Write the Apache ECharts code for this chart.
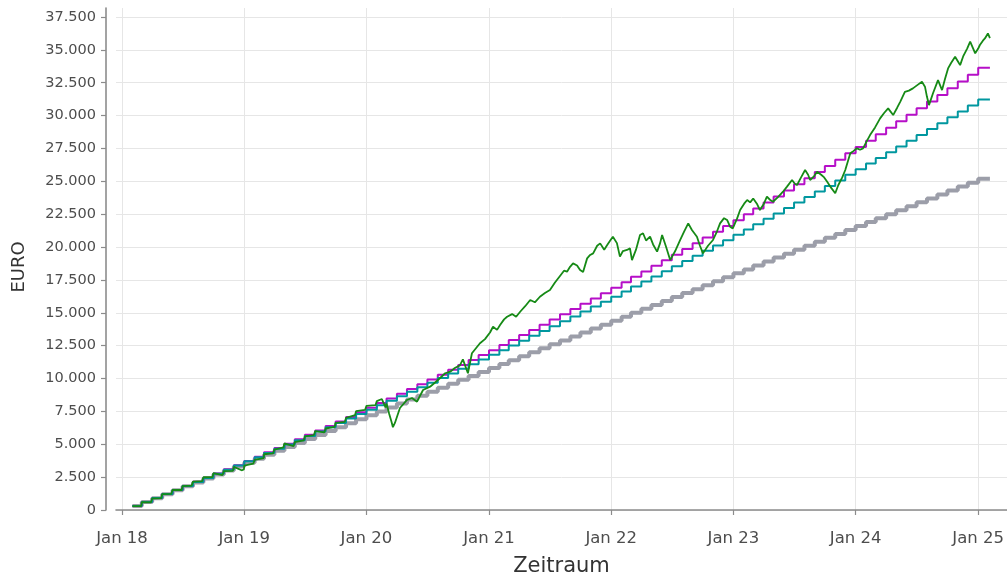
<!DOCTYPE html>
<html><head><meta charset="utf-8">
<script src="https://cdn.jsdelivr.net/npm/echarts@6/dist/echarts.min.js"></script>
<style>html,body{margin:0;padding:0;background:#fff}#c{width:1007px;height:577px}</style>
</head><body><div id="c"></div>
<script>
// ---------- DATA ----------
const monthDates = [
'2018-02-01','2018-03-01','2018-04-01','2018-05-01','2018-06-01','2018-07-01','2018-08-01','2018-09-01','2018-10-01','2018-11-01','2018-12-01',
'2019-01-01','2019-02-01','2019-03-01','2019-04-01','2019-05-01','2019-06-01','2019-07-01','2019-08-01','2019-09-01','2019-10-01','2019-11-01','2019-12-01',
'2020-01-01','2020-02-01','2020-03-01','2020-04-01','2020-05-01','2020-06-01','2020-07-01','2020-08-01','2020-09-01','2020-10-01','2020-11-01','2020-12-01',
'2021-01-01','2021-02-01','2021-03-01','2021-04-01','2021-05-01','2021-06-01','2021-07-01','2021-08-01','2021-09-01','2021-10-01','2021-11-01','2021-12-01',
'2022-01-01','2022-02-01','2022-03-01','2022-04-01','2022-05-01','2022-06-01','2022-07-01','2022-08-01','2022-09-01','2022-10-01','2022-11-01','2022-12-01',
'2023-01-01','2023-02-01','2023-03-01','2023-04-01','2023-05-01','2023-06-01','2023-07-01','2023-08-01','2023-09-01','2023-10-01','2023-11-01','2023-12-01',
'2024-01-01','2024-02-01','2024-03-01','2024-04-01','2024-05-01','2024-06-01','2024-07-01','2024-08-01','2024-09-01','2024-10-01','2024-11-01','2024-12-01',
'2025-01-01'];
const endDate = '2025-02-05';

const invested = [
300,600,900,1200,1500,1800,2100,2400,2700,3000,3300,3600,
3900,4200,4500,4800,5100,5400,5700,6000,6300,6600,6900,7200,
7500,7800,8100,8400,8700,9000,9300,9600,9900,10200,10500,10800,
11100,11400,11700,12000,12300,12600,12900,13200,13500,13800,14100,14400,
14700,15000,15300,15600,15900,16200,16500,16800,17100,17400,17700,18000,
18300,18600,18900,19200,19500,19800,20100,20400,20700,21000,21300,21600,
21900,22200,22500,22800,23100,23400,23700,24000,24300,24600,24900,25200];

const sparplan6 = [
300,602,905,1209,1515,1823,2132,2442,2755,3068,3384,3701,
4019,4339,4661,4984,5309,5636,5964,6294,6625,6958,7293,7630,
7968,8308,8649,8992,9337,9684,10032,10383,10735,11088,11444,11801,
12160,12521,12883,13248,13614,13982,14352,14724,15097,15473,15850,16229,
16611,16994,17379,17765,18154,18545,18938,19332,19729,20128,20528,20931,
21336,21742,22151,22562,22975,23390,23807,24226,24647,25070,25495,25923,
26352,26784,27218,27654,28092,28533,28976,29420,29867,30317,30768,31222];

const sparplan8 = [
300,602,906,1212,1520,1830,2142,2457,2773,3092,3412,3735,
4060,4387,4716,5048,5381,5717,6055,6396,6738,7083,7430,7780,
8132,8486,8843,9202,9563,9927,10293,10662,11033,11406,11782,12161,
12542,12925,13312,13700,14092,14486,14882,15281,15683,16088,16495,16905,
17318,17733,18151,18572,18996,19423,19852,20285,20720,21158,21599,22043,
22490,22940,23393,23849,24308,24770,25235,25703,26175,26649,27127,27608,
28092,28579,29070,29563,30061,30561,31065,31572,32082,32596,33113,33634];

const etfDates = [
'2018-02-01','2018-02-27','2018-03-01','2018-03-28','2018-04-01','2018-04-28','2018-05-01','2018-05-28',
'2018-06-01','2018-06-28','2018-07-01','2018-07-28','2018-08-01','2018-08-28','2018-09-01','2018-09-28',
'2018-10-01','2018-10-28','2018-11-01','2018-11-28','2018-12-01','2018-12-24','2018-12-31',
'2019-01-01','2019-01-28','2019-02-01','2019-02-28','2019-03-01','2019-03-28','2019-04-01','2019-04-28',
'2019-05-01','2019-05-28','2019-06-01','2019-06-28','2019-07-01','2019-07-28','2019-08-01','2019-08-28',
'2019-09-01','2019-09-28','2019-10-01','2019-10-28','2019-11-01','2019-11-28','2019-12-01','2019-12-28',
'2020-01-01','2020-01-28','2020-02-01','2020-02-16','2020-02-27','2020-03-01','2020-03-09','2020-03-16',
'2020-03-20','2020-03-26','2020-04-10','2020-05-01','2020-05-16','2020-05-31','2020-06-18','2020-07-09',
'2020-07-24','2020-08-08','2020-08-23','2020-09-07','2020-09-21','2020-10-06','2020-10-15','2020-10-30',
'2020-11-11','2020-11-23','2020-12-05','2020-12-20','2021-01-04','2021-01-13','2021-01-25','2021-02-03',
'2021-02-15','2021-02-24','2021-03-11','2021-03-23','2021-04-04','2021-04-19','2021-05-04','2021-05-18',
'2021-06-02','2021-06-17','2021-07-02','2021-07-17','2021-08-01','2021-08-13','2021-08-22','2021-08-31',
'2021-09-09','2021-09-21','2021-09-30','2021-10-09','2021-10-21','2021-10-30','2021-11-08','2021-11-20',
'2021-11-29','2021-12-11','2021-12-20','2021-12-29','2022-01-06','2022-01-18','2022-01-27','2022-02-05',
'2022-02-17','2022-02-26','2022-03-04','2022-03-16','2022-03-28','2022-04-06','2022-04-15','2022-04-27',
'2022-05-06','2022-05-18','2022-05-27','2022-06-02','2022-06-14','2022-06-26','2022-07-11','2022-07-26',
'2022-08-07','2022-08-19','2022-08-30','2022-09-14','2022-09-23','2022-10-02','2022-10-17','2022-11-01',
'2022-11-13','2022-11-22','2022-12-04','2022-12-13','2022-12-22','2022-12-30','2023-01-12','2023-01-21',
'2023-02-02','2023-02-11','2023-02-20','2023-03-01','2023-03-12','2023-03-21','2023-04-02','2023-04-11',
'2023-04-20','2023-04-29','2023-05-14','2023-05-29','2023-06-10','2023-06-25','2023-07-04','2023-07-10',
'2023-07-22','2023-08-03','2023-08-12','2023-08-18','2023-08-30','2023-09-08','2023-09-20','2023-09-29',
'2023-10-08','2023-10-20','2023-11-01','2023-11-10','2023-11-22','2023-12-01','2023-12-16','2023-12-25',
'2024-01-05','2024-01-14','2024-01-23','2024-02-04','2024-02-13','2024-02-28','2024-03-14','2024-03-26',
'2024-04-07','2024-04-22','2024-05-04','2024-05-13','2024-05-27','2024-06-08','2024-06-20','2024-07-02',
'2024-07-17','2024-07-26','2024-08-01','2024-08-07','2024-08-19','2024-09-03','2024-09-15','2024-09-24',
'2024-10-03','2024-10-12','2024-10-24','2024-11-02','2024-11-08','2024-11-17','2024-11-29','2024-12-08',
'2024-12-17','2024-12-23','2025-01-01','2025-01-06','2025-01-15','2025-01-21','2025-01-30','2025-02-05'];

const etfValues = [
300,290,590,575,875,900,1200,1225,
1525,1520,1820,1860,2160,2190,2490,2500,
2800,2660,2960,2980,3280,3020,3080,
3380,3520,3820,3940,4240,4300,4600,4760,
5060,4860,5160,5300,5600,5700,6000,5900,
6200,6330,6630,6700,7000,7220,7520,7620,
7920,7980,8280,8440,7800,8100,7300,6700,
6300,6620,7760,8370,8520,8240,9130,9380,
9700,10040,10400,10520,10800,11000,11460,10400,
11920,12300,12680,13000,13500,13940,13700,14070,
14500,14700,14900,14700,15080,15500,15970,15800,
16220,16500,16730,17300,17800,18200,18130,18500,
18760,18600,18250,18100,19140,19400,19520,20100,
20280,19800,20160,20500,20790,20300,19270,19700,
19780,19900,19010,19800,20920,21050,20500,20790,
20200,19650,20300,20920,20000,19010,19700,20540,
21200,21800,21300,20790,20100,19520,20100,20540,
21200,21800,22200,22060,21550,21420,22180,22820,
23300,23580,23400,23700,23300,22820,23300,23830,
23600,23450,23800,24210,24600,25100,24800,24720,
25300,25860,25500,25100,25400,25730,25500,25300,
24970,24500,24090,24700,25300,25860,27130,27300,
27510,27400,27510,28100,28520,29100,29790,30200,
30550,30040,30600,31050,31810,31900,32070,32300,
32570,32200,31430,30800,31700,32700,31940,32800,
33590,34000,34480,34100,33840,34500,35100,35620,
35100,34740,35100,35370,35700,35870,36250,35900];

const yTicks = [0,2500,5000,7500,10000,12500,15000,17500,20000,22500,25000,27500,30000,32500,35000,37500];
const xTickDates = ['2018-01-01','2019-01-01','2020-01-01','2021-01-01','2022-01-01','2023-01-01','2024-01-01','2025-01-01'];
const xTickLabels = ['Jan 18','Jan 19','Jan 20','Jan 21','Jan 22','Jan 23','Jan 24','Jan 25'];

// ---------- helpers ----------
function ts(s){ const p = s.split('-').map(Number); return Date.UTC(p[0], p[1]-1, p[2]); }
function stepData(vals){
  const d = monthDates.map((m,i)=>[ts(m), vals[i]]);
  d.push([ts(endDate), vals[vals.length-1]]);
  return d;
}
function deFmt(v){ return String(v).replace(/\B(?=(\d{3})+(?!\d))/g,'.'); }
const xTickTs = xTickDates.map(ts);

const FONT = 'DejaVu Sans';
const axisCol = '#8c8c8c';
const gridCol = '#e6e6e6';

const chart = echarts.init(document.getElementById('c'), null, {renderer:'canvas'});
chart.setOption({
  animation:false,
  backgroundColor:'#ffffff',
  textStyle:{fontFamily:FONT},
  grid:{left:116, right:0, top:8, bottom:67, containLabel:false, outerBoundsMode:'none'},
  xAxis:{
    type:'value',
    min: ts('2017-12-14'), max: ts('2025-03-28'),
    offset:7,
    axisLine:{show:true, lineStyle:{color:axisCol, width:1.6}},
    axisTick:{show:true, customValues:xTickTs, length:5, lineStyle:{color:axisCol, width:1.2}},
    axisLabel:{customValues:xTickTs, color:'#4d4d4d', fontSize:16.5, fontFamily:FONT, margin:13,
      formatter:function(v){ const i = xTickTs.indexOf(v); return i>=0 ? xTickLabels[i] : ''; }},
    splitLine:{show:true, lineStyle:{color:gridCol, width:1}},
    name:'Zeitraum', nameLocation:'middle', nameGap:39, nameMoveOverlap:false,
    nameTextStyle:{fontSize:21, color:'#333333', fontFamily:FONT}
  },
  yAxis:{
    type:'value', min:0, max:38185,
    offset:10,
    axisLine:{show:true, lineStyle:{color:axisCol, width:1.6}},
    axisTick:{show:true, customValues:yTicks, length:5, lineStyle:{color:axisCol, width:1.2}},
    axisLabel:{customValues:yTicks, color:'#4d4d4d', fontSize:14.5, fontFamily:FONT, margin:10,
      formatter:function(v){ return deFmt(v); }},
    splitLine:{show:true, lineStyle:{color:gridCol, width:1}},
    name:'EURO', nameLocation:'middle', nameGap:78, nameMoveOverlap:false,
    nameTextStyle:{fontSize:18, color:'#333333', fontFamily:FONT, padding:[0,16,0,0]}
  },
  series:[
    {name:'Eingezahlt', type:'line', step:'end', showSymbol:false, data:stepData(invested),
     lineStyle:{color:'#9c9ea9', width:4}, itemStyle:{color:'#9c9ea9'}, z:1},
    {name:'Sparplan 8 %', type:'line', step:'end', showSymbol:false, data:stepData(sparplan8),
     lineStyle:{color:'#b60fc8', width:2}, itemStyle:{color:'#b60fc8'}, z:2},
    {name:'Sparplan 6 %', type:'line', step:'end', showSymbol:false, data:stepData(sparplan6),
     lineStyle:{color:'#00979f', width:2}, itemStyle:{color:'#00979f'}, z:3},
    {name:'ETF', type:'line', showSymbol:false, data:etfDates.map((d,i)=>[ts(d), etfValues[i]]),
     lineStyle:{color:'#168a16', width:1.8}, itemStyle:{color:'#168a16'}, z:4}
  ]
});
</script></body></html>
